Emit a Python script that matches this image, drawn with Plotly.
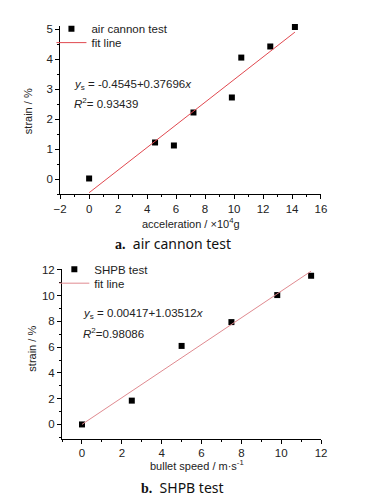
import plotly.graph_objects as go

W, H = 384, 498

# ---- data (a) air cannon test ----
acc = [0.0, 4.55, 5.85, 7.2, 9.85, 10.5, 12.5, 14.2]
strain_a = [0.02, 1.22, 1.12, 2.22, 2.72, 4.05, 4.42, 5.07]
fit_a_x = [0.0, 14.2]
fit_a_b0, fit_a_b1 = -0.4545, 0.37696

# ---- data (b) SHPB test ----
speed = [0.0, 2.5, 5.0, 7.5, 9.8, 11.5]
strain_b = [0.0, 1.85, 6.1, 7.95, 10.05, 11.55]
fit_b_x = [0.0, 11.5]
fit_b_b0, fit_b_b1 = 0.00417, 1.03512


def px(x):
    return x / W


def py(y):
    return 1 - y / H


FONT = "Liberation Sans, Arial, sans-serif"
TXT = "#222"
fig = go.Figure()

fig.add_trace(go.Scatter(x=acc, y=strain_a, mode="markers", name="air cannon test",
                         marker=dict(symbol="square", size=6, color="black"), cliponaxis=False,
                         xaxis="x", yaxis="y", legend="legend"))
fig.add_trace(go.Scatter(x=fit_a_x, y=[fit_a_b0 + fit_a_b1 * v for v in fit_a_x], mode="lines",
                         name="fit line", line=dict(color="#e0484f", width=1),
                         xaxis="x", yaxis="y", legend="legend2"))
fig.add_trace(go.Scatter(x=speed, y=strain_b, mode="markers", name="SHPB test",
                         marker=dict(symbol="square", size=6, color="black"), cliponaxis=False,
                         xaxis="x2", yaxis="y2", legend="legend3"))
fig.add_trace(go.Scatter(x=fit_b_x, y=[fit_b_b0 + fit_b_b1 * v for v in fit_b_x], mode="lines",
                         name="fit line", line=dict(color="#e08a90", width=1),
                         xaxis="x2", yaxis="y2", legend="legend4"))


def axis(minor_dtick):
    return dict(showline=True, linecolor="black", linewidth=1, ticks="outside",
                ticklen=4, tickwidth=1, tickcolor="black", showgrid=False, zeroline=False,
                tickfont=dict(family=FONT, size=11.5, color=TXT),
                minor=dict(ticks="outside", ticklen=2, tickcolor="black", showgrid=False,
                           dtick=minor_dtick))


def leg(xp, yp):
    return dict(x=px(xp), y=py(yp), xanchor="left", yanchor="middle",
                bgcolor="rgba(0,0,0,0)", font=dict(family=FONT, size=11.5, color=TXT),
                itemwidth=30)


fig.update_layout(
    width=W, height=H, margin=dict(l=0, r=0, t=0, b=0),
    paper_bgcolor="white", plot_bgcolor="white",
    font=dict(family=FONT, size=11.5, color=TXT),
    xaxis=dict(domain=[px(55), px(325)], anchor="y", range=[-2, 16], dtick=2, **axis(1)),
    yaxis=dict(domain=[py(191), py(21.3)], anchor="x", range=[-0.5, 5.1], dtick=1, **axis(0.5)),
    xaxis2=dict(domain=[px(57), px(325.5)], anchor="y2", range=[-1, 12.02], dtick=2, **axis(1)),
    yaxis2=dict(domain=[py(438), py(267)], anchor="x2", range=[-1.1, 12.05], dtick=2, **axis(1)),
    legend=leg(46, 24),
    legend2=leg(46, 38),
    legend3=leg(49, 267),
    legend4=leg(49, 281),
    showlegend=True,
)

ann = [
    dict(text="<i>y</i><sub>s</sub> = -0.4545+0.37696<i>x</i>", x=px(67), y=py(81)),
    dict(text="<i>R</i><sup>2</sup>= 0.93439", x=px(67), y=py(99)),
    dict(text="<i>y</i><sub>s</sub> = 0.00417+1.03512<i>x</i>", x=px(77), y=py(312)),
    dict(text="<i>R</i><sup>2</sup>=0.98086", x=px(77), y=py(331)),
]
for a in ann:
    fig.add_annotation(xref="paper", yref="paper", xanchor="left", yanchor="middle",
                       showarrow=False, font=dict(family=FONT, size=11.5, color=TXT), **a)

# axis titles
titles = [
    dict(text="acceleration / \u00d710<sup>4</sup>g", x=px(190), y=py(220), textangle=0),
    dict(text="strain / %", x=px(22), y=py(107), textangle=-90),
    dict(text="bullet speed / m\u00b7s<sup>-1</sup>", x=px(197), y=py(465), textangle=0),
    dict(text="strain / %", x=px(25), y=py(347), textangle=-90),
]
for t in titles:
    fig.add_annotation(xref="paper", yref="paper", xanchor="center", yanchor="middle",
                       showarrow=False, font=dict(family=FONT, size=11, color=TXT), **t)

# captions
caps = [
    dict(text="<span style='font-family:Liberation Serif;font-weight:bold'>a.</span>  air cannon test",
         x=px(172), y=py(241)),
    dict(text="<span style='font-family:Liberation Serif;font-weight:bold'>b.</span>  SHPB test",
         x=px(182), y=py(487)),
]
for c in caps:
    fig.add_annotation(xref="paper", yref="paper", xanchor="center", yanchor="middle",
                       showarrow=False, font=dict(family="Noto Sans, sans-serif", size=14, color="#111"), **c)

fig.write_html("out.html", config={"displayModeBar": False},
               post_script="document.body.style.margin='0';document.documentElement.style.overflow='hidden';")
